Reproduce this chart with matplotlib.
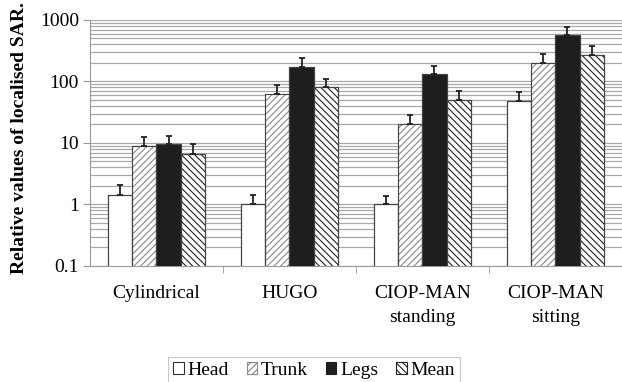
import matplotlib
matplotlib.use("Agg")
import matplotlib.pyplot as plt
import numpy as np

plt.rcParams['font.family'] = ['Liberation Serif', 'DejaVu Serif']
plt.rcParams['hatch.linewidth'] = 0.8

categories = ['Cylindrical', 'HUGO', 'CIOP-MAN\nstanding', 'CIOP-MAN\nsitting']
series = ['Head', 'Trunk', 'Legs', 'Mean']

head = [1.45, 1.0, 1.0, 48]
trunk = [9.0, 62, 20, 200]
legs = [9.5, 175, 130, 560]
mean = [6.5, 80, 50, 270]

head_err = [0.6, 0.4, 0.38, 19]
trunk_err = [3.5, 26, 8, 80]
legs_err = [3.5, 65, 50, 220]
mean_err = [3.0, 30, 20, 110]

values = [head, trunk, legs, mean]
errors = [head_err, trunk_err, legs_err, mean_err]
faces = ['white', 'white', '#1e1e1e', 'white']
hatches = [None, '/' * 5, None, '\\' * 5]
hcolors = ['#333333', '#8a8a8a', '#1e1e1e', '#222222']

fig = plt.figure(figsize=(6.22, 3.82), dpi=100)
ax = fig.add_axes([0.1447, 0.3037, 0.855, 0.644])

x = np.arange(len(categories))
w = 0.182
for i, (vals, errs) in enumerate(zip(values, errors)):
    pos = x + (i - 1.5) * w
    ax.bar(pos, vals, w, color=faces[i], edgecolor=hcolors[i],
           hatch=hatches[i], linewidth=0.8, label=series[i], zorder=3)
    ax.bar(pos, vals, w, color='none', edgecolor='#444444', linewidth=0.8, zorder=4)
    ax.errorbar(pos, vals, yerr=[np.zeros(len(vals)), errs], fmt='none',
                ecolor='#222222', elinewidth=1.3, capsize=2.5, capthick=1.3, zorder=5)

ax.set_yscale('log')
ax.set_ylim(0.1, 1000)
ax.set_xlim(-0.5, 3.5)
ax.set_yticks([0.1, 1, 10, 100, 1000])
ax.set_yticklabels(['0.1', '1', '10', '100', '1000'])
ax.yaxis.grid(True, which='both', color='#a8a8a8', linewidth=0.9, zorder=0)
ax.tick_params(axis='y', which='minor', length=0)
ax.tick_params(axis='y', which='major', length=5, color='#999999', labelsize=14, pad=3)
ax.set_xticks(x)
ax.set_xticklabels(categories, fontsize=14, linespacing=1.5)
ax.tick_params(axis='x', length=0, pad=14)
ax.set_xticks([0.5, 1.5, 2.5], minor=True)
ax.tick_params(axis='x', which='minor', length=5, color='#999999')

for s in ['top', 'right']:
    ax.spines[s].set_visible(False)
ax.spines['left'].set_color('#999999')
ax.spines['bottom'].set_color('#999999')

ax.set_ylabel('Relative values of localised SAR.', fontsize=14, fontweight='bold')
ax.yaxis.set_label_coords(-0.1165, 0.52)

leg = fig.legend(loc='lower center', bbox_to_anchor=(0.505, -0.03), ncol=4, fontsize=14,
                 frameon=True, fancybox=False, edgecolor='#bbbbbb', handlelength=0.55,
                 handleheight=0.55, handletextpad=0.2, columnspacing=0.9,
                 borderpad=0.25)
leg.get_frame().set_linewidth(0.8)

fig.savefig('out.png', dpi=100)
